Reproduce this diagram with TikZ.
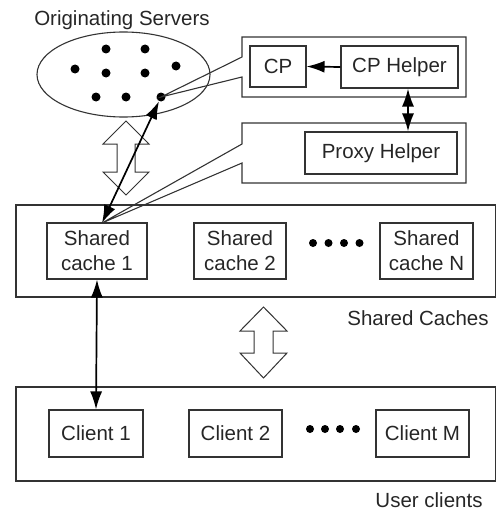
\documentclass[tikz,border=0pt]{standalone}
\usepackage{fontspec}
\setmainfont{Liberation Sans}
\usetikzlibrary{arrows.meta,shapes.geometric}

\begin{document}
\begin{tikzpicture}[x=1pt, y=-1pt,
        every node/.style = {font=\fontsize{20.5}{25}\selectfont, text=black!85},
        unit/.style = {draw=black!80, line width=1.1pt, inner sep=0pt, align=center},
        group/.style = {draw=black!80, line width=1.1pt},
        link/.style = {line width=1.7pt, {Latex[length=18pt,width=12pt]}-{Latex[length=18pt,width=12pt]}},
        hollow/.style = {draw=black!80, line width=1pt, fill=white},
        server/.style = {circle, fill=black, inner sep=0pt, minimum size=9pt}]
    \useasboundingbox (0,0) rectangle (497,511);

    % originating servers
    \node (origtitle) at (122,20) {Originating Servers};
    \node[ellipse, group, minimum width=173, minimum height=85] (origin) at (123.5,74.5) {};
    \foreach \name/\pos in {s1/{(106,49)}, s2/{(145,49)}, s3/{(75,69)}, s4/{(106,73)},
                            s5/{(145,73)}, s6/{(176,66)}, s7/{(96,97)}, s8/{(126,97)}, s9/{(161,97)}}
        \node[server] (\name) at \pos {};

    % helper boxes with their callouts
    \coordinate (tipA) at (102,223);
    \coordinate (hx) at (408,0);
    \draw[group] (242,37) -- (466,37) -- (466,97) -- (242,97) -- (242,77) -- (s9.center) -- (242,57) -- cycle;
    \draw[group] (242,123) -- (466,123) -- (466,183) -- (242,183) -- (242,163) -- (tipA) -- (242,144) -- cycle;
    \node[unit, minimum width=56, minimum height=41] (cp) at (278,66.5) {CP};
    \node[unit, minimum width=117, minimum height=42] (cphelper) at (399.5,67) {CP Helper};
    \node[unit, minimum width=152, minimum height=42] (proxyhelper) at (381,153) {Proxy Helper};

    % shared caches
    \draw[group] (16,205) rectangle (495.5,297);
    \node[unit, minimum width=100, minimum height=56] (cache1) at (97,251) {Shared\\cache 1};
    \node[unit, minimum width=92, minimum height=56] (cache2) at (240,251) {Shared\\cache 2};
    \node[unit, minimum width=93, minimum height=56] (cacheN) at (426.5,251) {Shared\\cache N};
    \foreach \x [count=\i] in {313,328.5,344,359.5}
        \node[server, minimum size=8pt] (dc\i) at (\x,243) {};
    \node (cachetitle) at (418,318) {Shared Caches};

    % user clients
    \draw[group] (16,387) rectangle (495.5,481);
    \node[unit, minimum width=94, minimum height=47] (client1) at (96,433.5) {Client 1};
    \node[unit, minimum width=93, minimum height=47] (client2) at (235.5,433.5) {Client 2};
    \node[unit, minimum width=93, minimum height=47] (clientM) at (422.5,433.5) {Client M};
    \foreach \x [count=\i] in {310,325,340,356}
        \node[server, minimum size=8pt] (dk\i) at (\x,429) {};
    \node (clienttitle) at (429,500) {User clients};

    % hollow arrows
    \draw[hollow] (126,121) -- (149,144) -- (135,144) -- (135,172) -- (149,172) -- (126,195)
        -- (103,172) -- (117,172) -- (117,144) -- (103,144) -- cycle;
    \draw[hollow] (263.5,307) -- (287,331) -- (273,331) -- (273,353) -- (287,353) -- (263.5,378)
        -- (240,353) -- (254,353) -- (254,331) -- (240,331) -- cycle;

    % links
    \draw[line width=1.7pt, -{Latex[length=18pt,width=12pt]}] (cphelper.west) -- (cp.east);
    \draw[link] (cphelper.south -| hx) -- (proxyhelper.north -| hx);
    \draw[link] (tipA) -- (s9);
    \draw[link] (cache1.south) -- (client1.north);
\end{tikzpicture}
\end{document}
